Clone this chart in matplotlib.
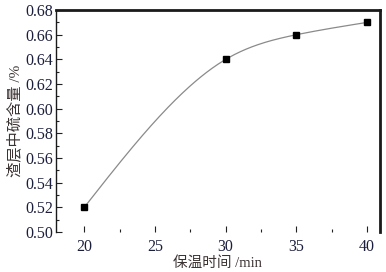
#!/usr/bin/env python3
# plot.py

import numpy as np
import matplotlib.pyplot as plt
from matplotlib.ticker import MultipleLocator

plt.rcParams['font.family'] = ['Liberation Serif', 'Noto Sans CJK SC']

time_min = [20, 30, 35, 40]
sulfur_pct = [0.52, 0.64, 0.66, 0.67]

x_ticks = [20, 25, 30, 35, 40]
y_ticks = [0.50, 0.52, 0.54, 0.56, 0.58, 0.60, 0.62, 0.64, 0.66, 0.68]


def natural_spline(x, y, n=200):
    # plain natural cubic spline, only used to draw the smooth line
    x = np.asarray(x, float)
    y = np.asarray(y, float)
    k = len(x)
    h = np.diff(x)
    a = np.zeros((k, k))
    b = np.zeros(k)
    a[0, 0] = a[-1, -1] = 1
    for i in range(1, k - 1):
        a[i, i - 1] = h[i - 1]
        a[i, i] = 2 * (h[i - 1] + h[i])
        a[i, i + 1] = h[i]
        b[i] = 6 * ((y[i + 1] - y[i]) / h[i] - (y[i] - y[i - 1]) / h[i - 1])
    m = np.linalg.solve(a, b)
    xs = np.linspace(x[0], x[-1], n)
    j = np.clip(np.searchsorted(x, xs) - 1, 0, k - 2)
    t0 = x[j + 1] - xs
    t1 = xs - x[j]
    hj = h[j]
    ys = (m[j] * t0 ** 3 + m[j + 1] * t1 ** 3) / (6 * hj) \
        + (y[j] / hj - m[j] * hj / 6) * t0 + (y[j + 1] / hj - m[j + 1] * hj / 6) * t1
    return xs, ys


def plot(ax):
    xs, ys = natural_spline(time_min, sulfur_pct)
    ax.plot(xs, ys, color='#8a8a8a', lw=0.9, zorder=2)
    ax.plot(time_min, sulfur_pct, ls='none', marker='s', ms=5,
            color='black', zorder=3)

    ax.set_xlim(18, 40.9)
    ax.set_ylim(0.50, 0.68)
    ax.set_xticks(x_ticks)
    ax.set_yticks(y_ticks)
    ax.set_yticklabels([f"{v:.2f}" for v in y_ticks])
    ax.xaxis.set_minor_locator(MultipleLocator(2.5))
    ax.yaxis.set_minor_locator(MultipleLocator(0.01))
    ax.tick_params(which='both', direction='in', labelsize=11.5,
                   labelcolor='#1c1f3c', color='#222222')
    ax.tick_params(which='major', length=4, width=0.8)
    ax.tick_params(which='minor', length=2, width=0.8)
    ax.tick_params(axis='x', pad=5)
    ax.tick_params(axis='y', pad=2)

    ax.spines['bottom'].set_visible(False)
    ax.spines['left'].set_linewidth(1.0)
    ax.spines['top'].set_linewidth(2.0)
    ax.spines['right'].set_linewidth(2.0)
    for s in ax.spines.values():
        s.set_color('#1a1a1a')

    ax.set_xlabel("保温时间 /min", fontsize=10.5, color='#3b3232', labelpad=1)
    ax.set_ylabel("渣层中硫含量 /%", fontsize=11, color='#3b3232', labelpad=2)


def main():
    fig = plt.figure(figsize=(3.86, 2.72), dpi=100)
    ax = fig.add_axes([0.145, 0.147, 0.839, 0.816])
    plot(ax)
    fig.savefig("out.png", dpi=100)


if __name__ == "__main__":
    main()
